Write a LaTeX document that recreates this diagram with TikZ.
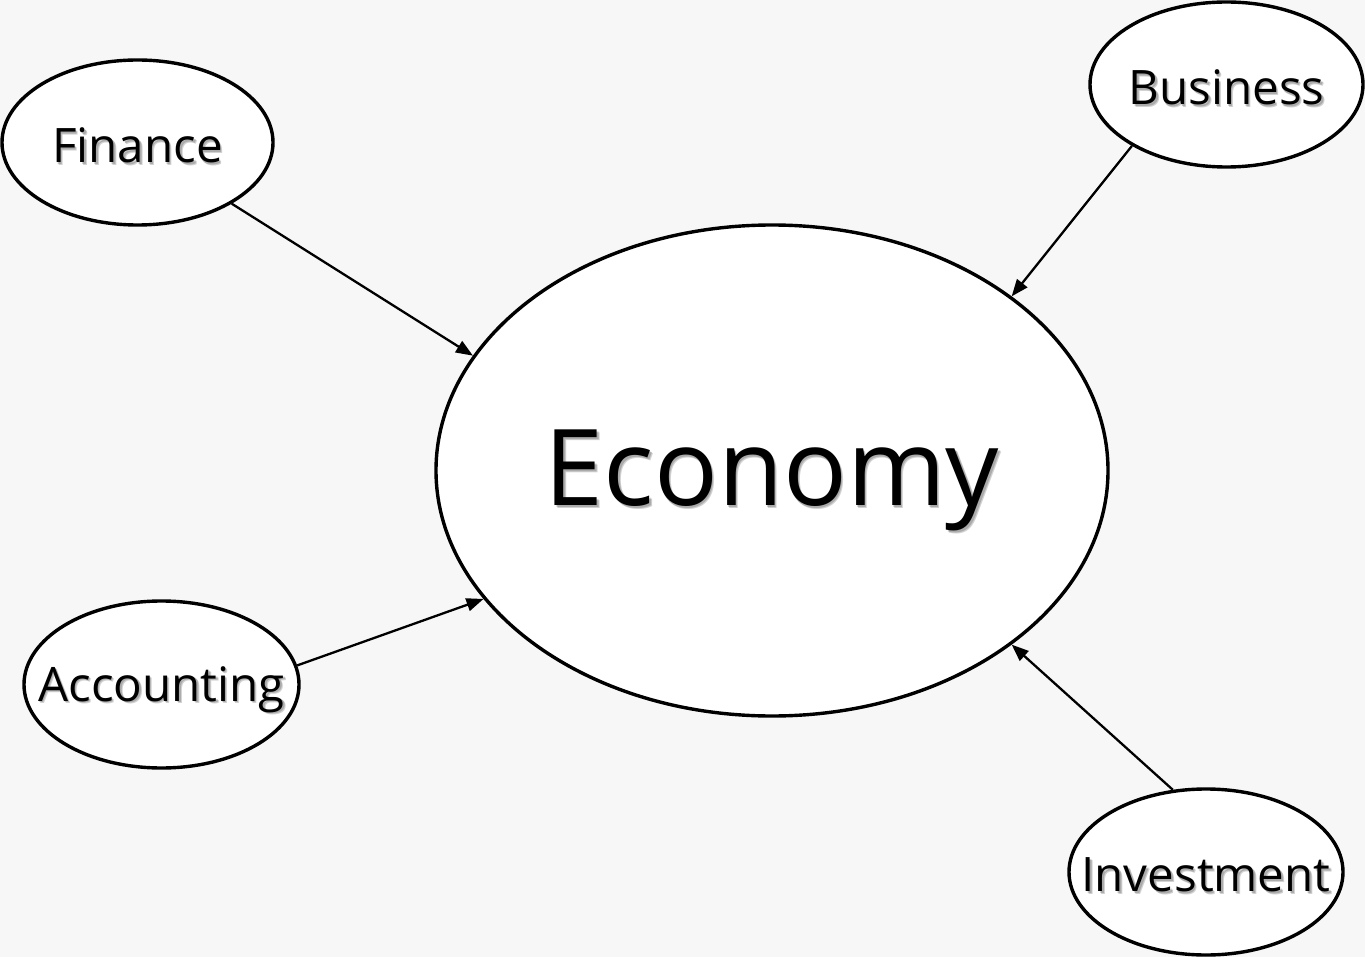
\documentclass[tikz,border=0pt]{standalone}
\usepackage{fontspec}
\setmainfont{Open Sans}
\usetikzlibrary{shapes.geometric,arrows.meta}
\definecolor{bg}{HTML}{F7F7F7}
\tikzset{
  bubble/.style={ellipse,draw=black,fill=white,line width=3.4pt,inner sep=0pt},
  lbl/.style={font=\fontsize{47.5}{52}\selectfont,inner sep=0pt},
  biglbl/.style={font=\fontsize{106}{114}\selectfont,inner sep=0pt},
  shadow/.style={text=black,opacity=0.18},
  conn/.style={line width=2.3pt,-{Triangle[length=17pt,width=13pt]}}
}
\newcommand{\shtext}[4]{% name, pos, style, text
  \node[#3,shadow] at ([xshift=2.5pt,yshift=-2.5pt]#2) {#4};
  \node[#3,shadow] at ([xshift=1.5pt,yshift=-1.5pt]#2) {#4};
  \node[#3] (#1) at (#2) {#4};
}
\begin{document}
\begin{tikzpicture}[x=1pt,y=-1pt]
\fill[bg] (0,0) rectangle (1365,957);
\useasboundingbox (0,0) rectangle (1365,957);
\node[bubble,minimum width=672pt,minimum height=491pt] (eco) at (772,470.5) {};
\node[bubble,minimum width=271pt,minimum height=165pt] (fin) at (137.5,142.5) {};
\node[bubble,minimum width=273pt,minimum height=165pt] (bus) at (1226.5,84.5) {};
\node[bubble,minimum width=275pt,minimum height=167pt] (acc) at (161.5,684.5) {};
\node[bubble,minimum width=274pt,minimum height=166pt] (inv) at (1206,872) {};
\coordinate (ecop) at ([yshift=-10pt]eco.center);
\coordinate (finp) at ([yshift=-3pt]fin.center);
\coordinate (busp) at ([yshift=-3pt]bus.center);
\coordinate (accp) at ([yshift=-5pt]acc.center);
\coordinate (invp) at ([yshift=-3pt]inv.center);
\shtext{ecot}{ecop}{biglbl}{Economy}
\shtext{fint}{finp}{lbl}{Finance}
\shtext{bust}{busp}{lbl}{Business}
\shtext{acct}{accp}{lbl}{Accounting}
\shtext{invt}{invp}{lbl}{Investment}
\draw[conn] (fin.-33.6) -- (eco.159.4);
\draw[conn] (bus.-147.9) -- (eco.36.1);
\draw[conn] (acc.8.2) -- (eco.204.8);
\draw[conn] (inv.112.3) -- (eco.-36.2);
\end{tikzpicture}
\end{document}
